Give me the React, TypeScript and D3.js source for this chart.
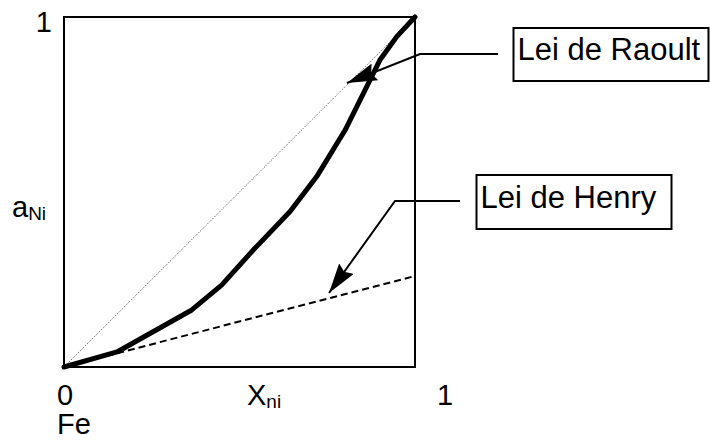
import React, { useRef, useEffect } from "react";
import * as d3 from "d3";

// activity of Ni vs mole fraction
const xNi = [0, 0.151, 0.364, 0.449, 0.539, 0.644, 0.72, 0.801, 0.853, 0.9, 0.948, 1];
const aNi = [0, 0.043, 0.163, 0.234, 0.334, 0.444, 0.544, 0.677, 0.782, 0.877, 0.944, 1];
const henrySlope = 0.26;
const raoultLabel = "Lei de Raoult";
const henryLabel = "Lei de Henry";

const W = 710;
const H = 441;
const FONT = "'Liberation Sans', Arial, sans-serif";

const App = () => {
  const svgRef = useRef<SVGSVGElement>(null);

  useEffect(() => {
    const svg = d3.select(svgRef.current);
    svg.selectAll("*").remove();

    const x = d3.scaleLinear().domain([0, 1]).range([64, 415]);
    const y = d3.scaleLinear().domain([0, 1]).range([367, 17]);

    const defs = svg.append("defs");
    defs.append("marker")
      .attr("id", "head")
      .attr("viewBox", "0 0 30 18")
      .attr("refX", 30)
      .attr("refY", 9)
      .attr("markerWidth", 30)
      .attr("markerHeight", 18)
      .attr("markerUnits", "userSpaceOnUse")
      .attr("orient", "auto")
      .append("path")
      .attr("d", "M0,0 L30,9 L0,18 L4,9 Z")
      .attr("fill", "#000");

    const line = d3.line<[number, number]>().x(d => x(d[0])).y(d => y(d[1]));

    // Raoult diagonal
    svg.append("path")
      .attr("d", line([[0, 0], [1, 1]]))
      .attr("fill", "none")
      .attr("stroke", "#444")
      .attr("stroke-width", 1)
      .attr("stroke-dasharray", "1 1.5");

    // Henry line
    svg.append("path")
      .attr("d", line([[0, 0], [1, henrySlope]]))
      .attr("fill", "none")
      .attr("stroke", "#000")
      .attr("stroke-width", 2)
      .attr("stroke-dasharray", "7 4");

    // box
    svg.append("rect")
      .attr("x", x(0))
      .attr("y", y(1))
      .attr("width", x(1) - x(0))
      .attr("height", y(0) - y(1))
      .attr("fill", "none")
      .attr("stroke", "#000")
      .attr("stroke-width", 2);

    // activity curve
    svg.append("path")
      .attr("d", line(xNi.map((v, i) => [v, aNi[i]] as [number, number])))
      .attr("fill", "none")
      .attr("stroke", "#000")
      .attr("stroke-width", 5)
      .attr("stroke-linejoin", "round")
      .attr("stroke-linecap", "round");

    // callouts
    const callout = (pts: [number, number][]) =>
      svg.append("polyline")
        .attr("points", pts.map(p => p.join(",")).join(" "))
        .attr("fill", "none")
        .attr("stroke", "#000")
        .attr("stroke-width", 2)
        .attr("marker-end", "url(#head)");

    callout([[498, 54], [420, 54], [347, 83]]);
    callout([[460, 201], [395, 201], [329, 293]]);

    const labelBox = (bx: number, by: number, bw: number, bh: number, txt: string) => {
      svg.append("rect")
        .attr("x", bx).attr("y", by).attr("width", bw).attr("height", bh)
        .attr("fill", "#fff").attr("stroke", "#000").attr("stroke-width", 2);
      svg.append("text")
        .attr("x", bx + 4).attr("y", by + bh - 21)
        .attr("font-family", FONT).attr("font-size", 31)
        .text(txt);
    };
    labelBox(513.5, 28, 195, 53, raoultLabel);
    labelBox(476.5, 175, 195, 54, henryLabel);

    const txt = (tx: number, ty: number, s: string, size = 29, anchor = "start") =>
      svg.append("text")
        .attr("x", tx).attr("y", ty)
        .attr("font-family", FONT).attr("font-size", size)
        .attr("text-anchor", anchor)
        .text(s);

    txt(52, 32, "1", 29, "end");
    txt(x(0) + 1, 405, "0", 29, "middle");
    txt(x(1) + 30, 405, "1", 29, "middle");
    txt(57, 434, "Fe");

    const xl = txt(247, 405, "X");
    xl.append("tspan").attr("font-size", 19).attr("dy", 3).text("ni");

    const yl = txt(12, 217, "a");
    yl.append("tspan").attr("font-size", 19).attr("dy", 3).text("Ni");
  }, []);

  return (
    <svg
      ref={svgRef}
      width={W}
      height={H}
      style={{ position: "absolute", left: 0, top: 0, background: "#fff" }}
    />
  );
};

export default App;
